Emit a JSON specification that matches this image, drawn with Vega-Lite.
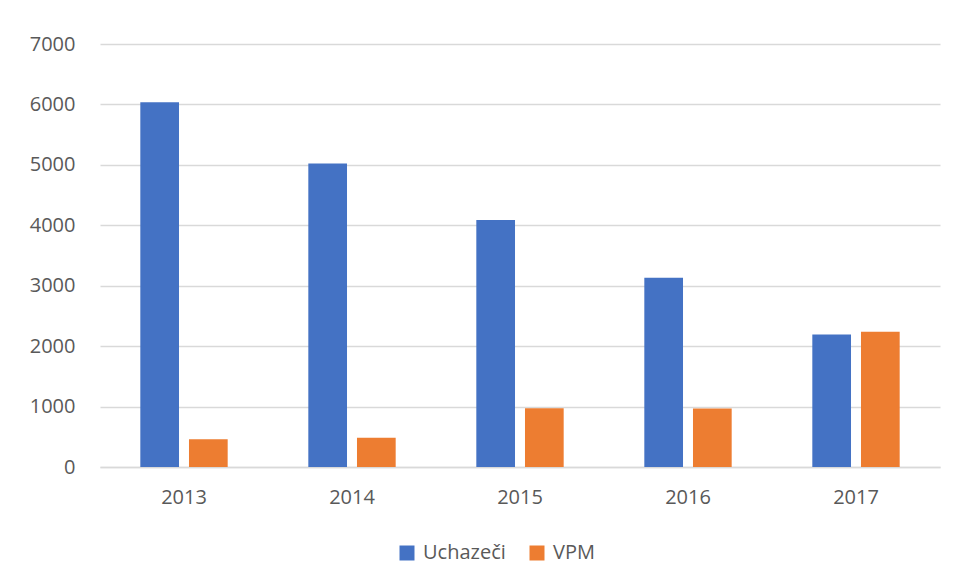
{
  "$schema": "https://vega.github.io/schema/vega-lite/v6.json",
  "autosize": "none",
  "width": 840,
  "height": 423,
  "padding": {"left": 100, "top": 44, "right": 16, "bottom": 116},
  "background": "white",
  "data": {
    "values": [
      {"year": "2013", "series": "Uchazeči", "value": 6038},
      {"year": "2013", "series": "VPM", "value": 458},
      {"year": "2014", "series": "Uchazeči", "value": 5021},
      {"year": "2014", "series": "VPM", "value": 486},
      {"year": "2015", "series": "Uchazeči", "value": 4089},
      {"year": "2015", "series": "VPM", "value": 972},
      {"year": "2016", "series": "Uchazeči", "value": 3132},
      {"year": "2016", "series": "VPM", "value": 970},
      {"year": "2017", "series": "Uchazeči", "value": 2193},
      {"year": "2017", "series": "VPM", "value": 2238}
    ]
  },
  "mark": {"type": "bar"},
  "encoding": {
    "x": {
      "field": "year",
      "type": "nominal",
      "title": null,
      "scale": {"paddingInner": 0.48, "paddingOuter": 0.24},
      "axis": {
        "labelAngle": 0,
        "labelFont": "Open Sans",
        "labelFontSize": 20,
        "labelColor": "#595959",
        "labelPadding": 20,
        "ticks": false,
        "domainColor": "#D9D9D9",
        "domainWidth": 1.5,
        "grid": false
      }
    },
    "xOffset": {
      "field": "series",
      "type": "nominal",
      "scale": {"paddingInner": 0.205, "paddingOuter": 0}
    },
    "y": {
      "field": "value",
      "type": "quantitative",
      "title": null,
      "scale": {"domain": [0, 7000], "nice": false},
      "axis": {
        "values": [0, 1000, 2000, 3000, 4000, 5000, 6000, 7000],
        "format": "d",
        "labelFont": "Open Sans",
        "labelFontSize": 20,
        "labelColor": "#595959",
        "labelPadding": 25,
        "ticks": false,
        "domain": false,
        "gridColor": "#D9D9D9",
        "gridWidth": 1.5
      }
    },
    "color": {
      "field": "series",
      "type": "nominal",
      "title": null,
      "scale": {"domain": ["Uchazeči", "VPM"], "range": ["#4472C4", "#ED7D31"]},
      "legend": {
        "orient": "none",
        "legendX": 297,
        "legendY": 499,
        "direction": "horizontal",
        "symbolType": "square",
        "symbolSize": 225,
        "symbolStrokeWidth": 0,
        "labelFont": "Open Sans",
        "labelFontSize": 20,
        "labelColor": "#595959",
        "labelOffset": 6,
        "columnPadding": 21,
        "padding": 0
      }
    }
  },
  "config": {
    "view": {"stroke": null}
  }
}
